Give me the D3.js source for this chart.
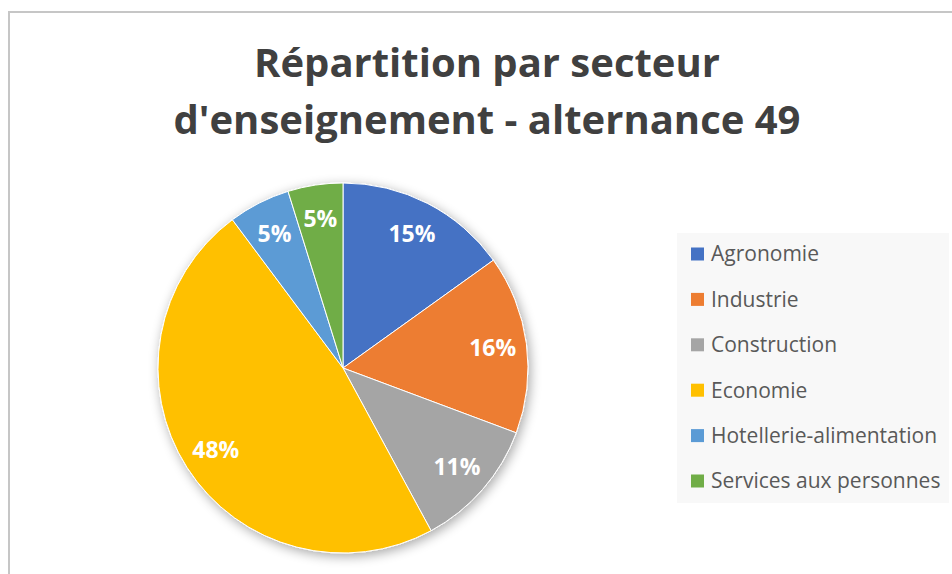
<!DOCTYPE html>
<html><head><meta charset="utf-8">
<script src="https://cdn.jsdelivr.net/npm/d3@7"></script>
<style>html,body{margin:0;padding:0;background:#fff;}svg{display:block;}</style>
</head><body>
<svg id="chart" width="952" height="574"></svg>
<script>
const categories = ["Agronomie","Industrie","Construction","Economie","Hotellerie-alimentation","Services aux personnes"];
const values = [15.1, 15.6, 11.4, 47.7, 5.4, 4.8];
const colors = ["#4472C4","#ED7D31","#A5A5A5","#FFC000","#5B9BD5","#70AD47"];
const titleLines = ["Répartition par secteur","d'enseignement - alternance 49"];

const svg = d3.select("#chart");
const W = 952, H = 574;
const font = "'Open Sans', 'DejaVu Sans', sans-serif";

// frame
svg.append("rect").attr("x",9).attr("y",12).attr("width",W).attr("height",H)
  .attr("fill","#fff").attr("stroke","#c6c6c6").attr("stroke-width",2);

// title
svg.append("text").attr("x",487).attr("y",77).attr("text-anchor","middle")
  .attr("font-family",font).attr("font-weight","bold").attr("font-size",40).attr("fill","#404040")
  .selectAll("tspan").data(titleLines).join("tspan")
  .attr("x",487).attr("dy",(d,i)=>i===0?0:57).text(d=>d);

// shadow
const defs = svg.append("defs");
const f = defs.append("filter").attr("id","shadow").attr("x","-20%").attr("y","-20%").attr("width","140%").attr("height","140%");
f.append("feGaussianBlur").attr("in","SourceAlpha").attr("stdDeviation",6).attr("result","b");
f.append("feOffset").attr("in","b").attr("dx",2).attr("dy",3).attr("result","o");
f.append("feComponentTransfer").attr("in","o").attr("result","o2").append("feFuncA").attr("type","linear").attr("slope",0.35);
const m = f.append("feMerge"); m.append("feMergeNode").attr("in","o2"); m.append("feMergeNode").attr("in","SourceGraphic");

const cx = 343, cy = 368, R = 185;
const pie = d3.pie().sort(null).value(d=>d.v);
const data = pie(categories.map((c,i)=>({c, v: values[i], col: colors[i]})));
const total = d3.sum(values);
const arc = d3.arc().innerRadius(0).outerRadius(R);
const labelArc = d3.arc().innerRadius(151).outerRadius(151);

const g = svg.append("g").attr("transform",`translate(${cx},${cy})`);
const sl = g.append("g").attr("filter","url(#shadow)");
sl.selectAll("path").data(data).join("path").attr("d",arc).attr("fill",d=>d.data.col)
  .attr("stroke","#fff").attr("stroke-width",1);

g.selectAll("text.lbl").data(data).join("text").attr("class","lbl")
  .attr("transform",d=>`translate(${labelArc.centroid(d)})`)
  .attr("text-anchor","middle").attr("dy","0.36em")
  .attr("font-family",font).attr("font-weight","bold").attr("font-size",23).attr("fill","#fff")
  .text(d=>Math.round(d.data.v/total*100)+"%");

// legend
const lg = svg.append("g");
lg.append("rect").attr("x",677).attr("y",233).attr("width",272).attr("height",270).attr("fill","#f8f8f8");
const y = d3.scalePoint().domain(categories).range([254,481]);
const items = lg.selectAll("g.it").data(categories).join("g").attr("class","it")
  .attr("transform",d=>`translate(691,${y(d)})`);
items.append("rect").attr("x",0).attr("y",-6.5).attr("width",13).attr("height",13).attr("fill",(d,i)=>colors[i]);
items.append("text").attr("x",20).attr("dy","0.35em").attr("font-family",font).attr("font-size",21).attr("fill","#595959").text(d=>d);
</script>
</body></html>
